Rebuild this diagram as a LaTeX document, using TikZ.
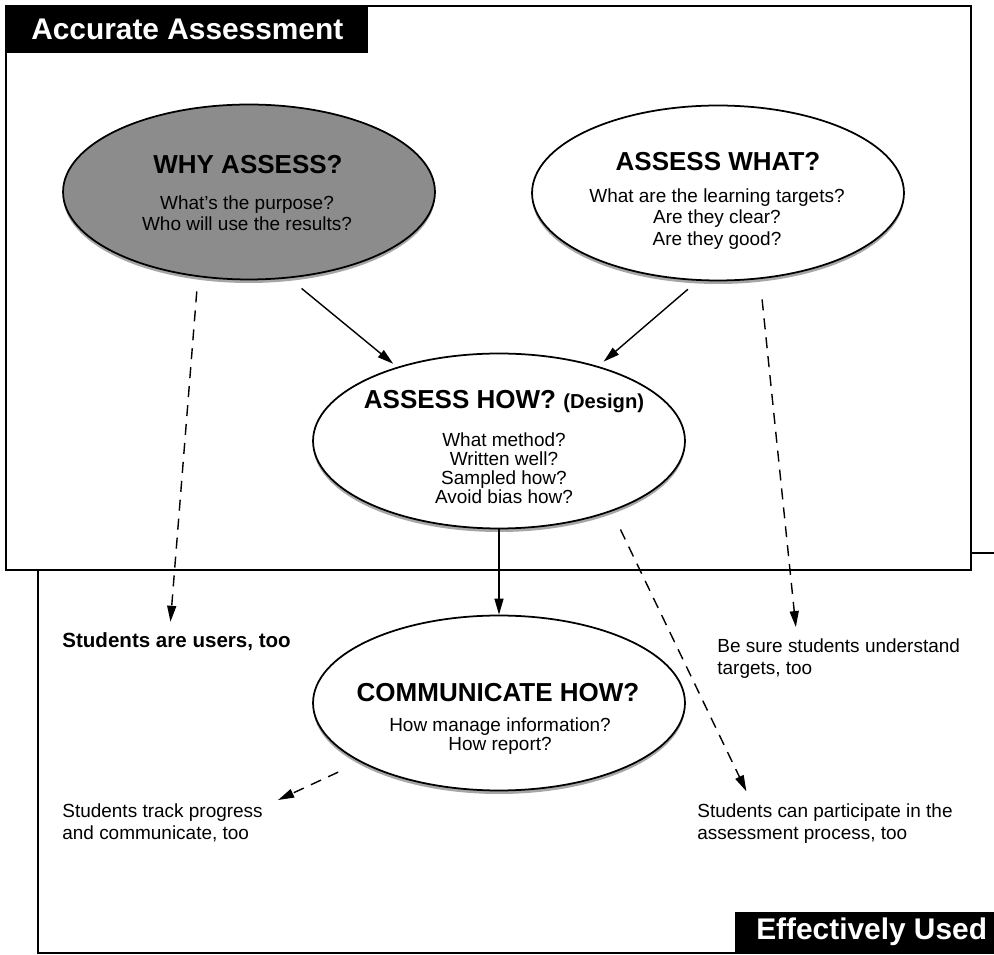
\documentclass[tikz,border=0pt]{standalone}
\usepackage{fontspec}
\setmainfont{Liberation Sans}
\usetikzlibrary{arrows.meta,shapes.geometric,shadows}

\begin{document}
\begin{tikzpicture}[x=0.02cm, y=-0.02cm,
    oval/.style={ellipse, draw, line width=1pt, fill=white, inner sep=0pt,
        minimum width=7.44cm, minimum height=3.5cm,
        drop shadow={shadow xshift=0pt, shadow yshift=-2pt, fill=black!35, opacity=1}},
    ttl/.style={font=\fontsize{14.8}{17}\selectfont\bfseries},
    sub/.style={align=center, font=\fontsize{10.8}{#1}\selectfont},
    sub/.default=12.2,
    note/.style={align=left, inner sep=0pt, font=\fontsize{10.8}{13}\selectfont},
    tag/.style={fill=black, text=white, inner sep=0pt, font=\fontsize{17}{19}\selectfont\bfseries},
    frame/.style={line width=1.6pt},
    flow/.style={-{Triangle[length=0.32cm, width=0.18cm]}, line width=0.8pt},
    hint/.style={flow, dash pattern=on 0.22cm off 0.16cm}]

    \useasboundingbox (0,0) rectangle (994,955);

    % Frames
    \draw[frame] (994,553) -- (38,553) -- (38,953) -- (994,953);
    \draw[frame, fill=white] (6,6) rectangle (971,570);
    \node[tag, anchor=north west, minimum width=7.24cm, minimum height=0.94cm] (accTag) at (6,6) {Accurate Assessment};
    \node[tag, anchor=south east, minimum width=5.18cm, minimum height=0.82cm] (useTag) at (994,953) {\hspace*{0.3cm}Effectively Used};

    % Ovals
    \node[oval, fill=black!45] (why) at (249,192) {};
    \node[ttl] (whyT) at (248,165) {WHY ASSESS?};
    \node[sub] (whyS) at (247,213) {What's the purpose?\\Who will use the results?};

    \node[oval] (what) at (718,193) {};
    \node[ttl] (whatT) at (718,162) {ASSESS WHAT?};
    \node[sub] (whatS) at (717,219) {What are the learning targets?\\Are they clear?\\Are they good?};

    \node[oval] (how) at (499,441) {};
    \node[ttl] (howT) at (504,402) {ASSESS HOW? {\fontsize{11.5}{13}\selectfont(Design)}};
    \node[sub=10.8] (howS) at (504,468) {What method?\\Written well?\\Sampled how?\\Avoid bias how?};

    \node[oval] (comm) at (499,703) {};
    \node[ttl] (commT) at (498,693) {COMMUNICATE HOW?};
    \node[sub=10.8] (commS) at (500,736) {How manage information?\\How report?};

    % Notes
    \node[note, anchor=base west, font=\fontsize{11.7}{13}\selectfont\bfseries] (users) at (62,648) {Students are users, too};
    \node[note, anchor=north west] (sure) at (717,638) {Be sure students understand\\targets, too};
    \node[note, anchor=north west] (track) at (62,803) {Students track progress\\and communicate, too};
    \node[note, anchor=north west] (part) at (697,803) {Students can participate in the\\assessment process, too};

    % Arrows
    \draw[flow, shorten <=0.32cm, shorten >=0.1cm] (why.-65) -- (how.144);
    \draw[flow, shorten <=0.26cm, shorten >=0.14cm] (what.-103) -- (how.37.5);
    \draw[flow] (how.south) -- (comm.north);

    % Students, too
    \draw[hint, shorten <=0.29cm, shorten >=0.22cm] (why.-121) -- ([xshift=-0.14cm]users.north);
    \draw[hint, shorten <=0.41cm, shorten >=0.22cm] (what.-64) -- ([xshift=1.6cm]sure.north west);
    \draw[hint, shorten <=0.4cm, shorten >=0.26cm] (how.-32) -- ([xshift=1.1cm]part.north west);
    \draw[hint, shorten <=0.48cm] (comm.-157.5) -- ([shift={(0.3cm,0.06cm)}]track.north east);
\end{tikzpicture}
\end{document}
